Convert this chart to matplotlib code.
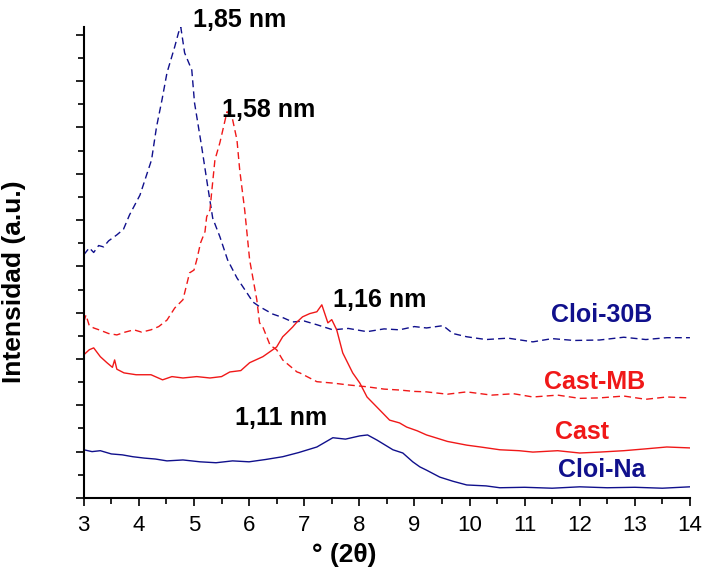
import matplotlib.pyplot as plt

plt.rcParams['font.family'] = ['Liberation Sans', 'DejaVu Sans']

# Cloi-30B (dashed, blue)
x_30b = [3.00, 3.10, 3.18, 3.27, 3.36, 3.45, 3.60, 3.72, 3.83, 4.02, 4.23, 4.32, 4.42,
         4.51, 4.65, 4.72, 4.76, 4.83, 4.96, 5.01, 5.14, 5.25, 5.34, 5.47, 5.61, 5.78,
         5.96, 6.07, 6.19, 6.43, 6.60, 6.79, 7.00, 7.23, 7.52, 7.80, 8.14, 8.45, 8.73,
         9.00, 9.22, 9.52, 9.70, 9.95, 10.30, 10.70, 11.15, 11.50, 11.90, 12.36, 12.80,
         13.20, 13.58, 14.00]
y_30b = [5.25, 5.40, 5.30, 5.45, 5.42, 5.55, 5.68, 5.80, 6.11, 6.54, 7.30, 8.01, 8.60,
         9.18, 9.74, 10.05, 10.17, 9.61, 9.24, 8.53, 7.58, 6.72, 6.04, 5.64, 5.14, 4.75,
         4.43, 4.23, 4.13, 3.97, 3.90, 3.80, 3.82, 3.74, 3.63, 3.66, 3.59, 3.65, 3.63,
         3.70, 3.67, 3.72, 3.55, 3.48, 3.42, 3.45, 3.37, 3.44, 3.40, 3.41, 3.47, 3.42,
         3.46, 3.46]

# Cast-MB (dashed, red)
x_mb = [3.00, 3.04, 3.10, 3.18, 3.30, 3.45, 3.60, 3.75, 3.91, 4.05, 4.22, 4.36, 4.51,
        4.65, 4.80, 4.92, 5.00, 5.05, 5.12, 5.20, 5.23, 5.29, 5.32, 5.38, 5.47, 5.60,
        5.69, 5.78, 5.83, 5.92, 6.01, 6.14, 6.19, 6.25, 6.38, 6.50, 6.61, 6.87, 6.92,
        7.23, 7.52, 7.80, 8.14, 8.45, 8.73, 9.00, 9.22, 9.60, 9.95, 10.40, 10.80,
        11.15, 11.60, 12.00, 12.36, 12.80, 13.20, 13.58, 14.00]
y_mb = [3.80, 3.95, 3.72, 3.67, 3.62, 3.55, 3.52, 3.58, 3.63, 3.58, 3.63, 3.70, 3.84,
        4.10, 4.28, 4.86, 4.92, 5.14, 5.51, 5.75, 6.07, 6.22, 6.59, 7.30, 7.67, 8.34,
        8.23, 7.73, 7.08, 6.22, 5.14, 4.28, 3.78, 3.69, 3.30, 3.20, 2.98, 2.72, 2.70,
        2.51, 2.48, 2.44, 2.40, 2.35, 2.33, 2.30, 2.29, 2.24, 2.29, 2.22, 2.25, 2.18,
        2.22, 2.15, 2.16, 2.20, 2.13, 2.18, 2.16]

# Cast (solid, red)
x_cast = [3.00, 3.10, 3.18, 3.30, 3.42, 3.52, 3.56, 3.60, 3.73, 3.95, 4.22, 4.43, 4.60,
          4.80, 5.05, 5.29, 5.50, 5.65, 5.85, 6.01, 6.25, 6.43, 6.50, 6.61, 6.68, 6.79,
          6.87, 6.97, 7.10, 7.23, 7.32, 7.43, 7.50, 7.59, 7.70, 7.88, 8.01, 8.14, 8.37,
          8.55, 8.73, 8.86, 9.05, 9.22, 9.33, 9.60, 9.95, 10.20, 10.55, 10.90, 11.15,
          11.60, 12.00, 12.36, 12.80, 13.20, 13.58, 14.00]
y_cast = [3.09, 3.20, 3.24, 3.05, 2.92, 2.82, 2.98, 2.78, 2.70, 2.66, 2.66, 2.55, 2.62,
          2.59, 2.62, 2.59, 2.62, 2.72, 2.75, 2.92, 3.05, 3.20, 3.26, 3.48, 3.56, 3.69,
          3.80, 3.91, 3.98, 4.02, 4.17, 3.78, 3.85, 3.63, 3.13, 2.70, 2.48, 2.18, 1.90,
          1.68, 1.62, 1.53, 1.45, 1.36, 1.32, 1.22, 1.14, 1.10, 1.04, 1.02, 0.99, 1.02,
          0.97, 0.99, 1.02, 1.06, 1.10, 1.08]

# Cloi-Na (solid, blue)
x_na = [3.00, 3.15, 3.30, 3.50, 3.70, 3.89, 4.10, 4.30, 4.51, 4.80, 5.11, 5.40, 5.70,
        6.00, 6.30, 6.61, 6.90, 7.23, 7.52, 7.75, 8.01, 8.15, 8.32, 8.61, 8.79, 8.97,
        9.10, 9.22, 9.46, 9.70, 9.95, 10.30, 10.55, 11.00, 11.50, 12.00, 12.50, 13.00,
        13.50, 14.00]
y_na = [1.04, 1.00, 1.02, 0.95, 0.93, 0.89, 0.86, 0.84, 0.80, 0.82, 0.78, 0.76, 0.80,
        0.78, 0.83, 0.89, 0.98, 1.10, 1.30, 1.27, 1.34, 1.36, 1.25, 1.04, 0.97, 0.78,
        0.67, 0.60, 0.45, 0.36, 0.28, 0.26, 0.22, 0.23, 0.21, 0.24, 0.22, 0.23, 0.21,
        0.24]

peak_labels = ['1,85 nm', '1,58 nm', '1,16 nm', '1,11 nm']
peak_x = [4.98, 5.50, 7.52, 5.74]
peak_y = [10.32, 8.38, 4.28, 1.73]

blue = '#10108c'
red = '#f01818'

fig = plt.figure(figsize=(7.04, 5.73), dpi=100)
ax = fig.add_axes([0.119, 0.131, 0.861, 0.822])

dash = (0, (5, 3))
ax.plot(x_30b, y_30b, color=blue, lw=1.0, linestyle=dash)
ax.plot(x_mb, y_mb, color=red, lw=1.0, linestyle=dash)
ax.plot(x_cast, y_cast, color=red, lw=1.0)
ax.plot(x_na, y_na, color=blue, lw=1.0)

for txt, px, py in zip(peak_labels, peak_x, peak_y):
    ax.text(px, py, txt, fontsize=18, fontweight='bold', ha='left', va='center',
            clip_on=False)

ax.text(12.40, 3.95, 'Cloi-30B', color=blue, fontsize=18, fontweight='bold', ha='center', va='center')
ax.text(12.27, 2.51, 'Cast-MB', color=red, fontsize=18, fontweight='bold', ha='center', va='center')
ax.text(12.05, 1.43, 'Cast', color=red, fontsize=18, fontweight='bold', ha='center', va='center')
ax.text(12.40, 0.60, 'Cloi-Na', color=blue, fontsize=18, fontweight='bold', ha='center', va='center')

ax.set_xlim(3, 14)
ax.set_ylim(0, 10.17)
ax.set_xticks(range(3, 15))
ax.set_xticks([i + 0.5 for i in range(3, 14)], minor=True)
ax.set_yticks(range(0, 11))
ax.set_yticks([i + 0.5 for i in range(0, 10)], minor=True)
ax.set_yticklabels([])
ax.tick_params(axis='both', which='major', length=6, width=1.2, labelsize=16, direction='out')
ax.tick_params(axis='both', which='minor', length=4, width=1.2, direction='out')
ax.tick_params(axis='x', pad=6)

for side in ['top', 'right']:
    ax.spines[side].set_visible(False)
for side in ['left', 'bottom']:
    ax.spines[side].set_linewidth(1.5)

ax.set_xlabel('° (2θ)', fontsize=19, fontweight='bold')
ax.xaxis.set_label_coords(0.43, -0.095)
ax.set_ylabel('Intensidad (a.u.)', fontsize=19, fontweight='bold')
ax.yaxis.set_label_coords(-0.095, 0.46)

fig.savefig('out.png', dpi=100)
